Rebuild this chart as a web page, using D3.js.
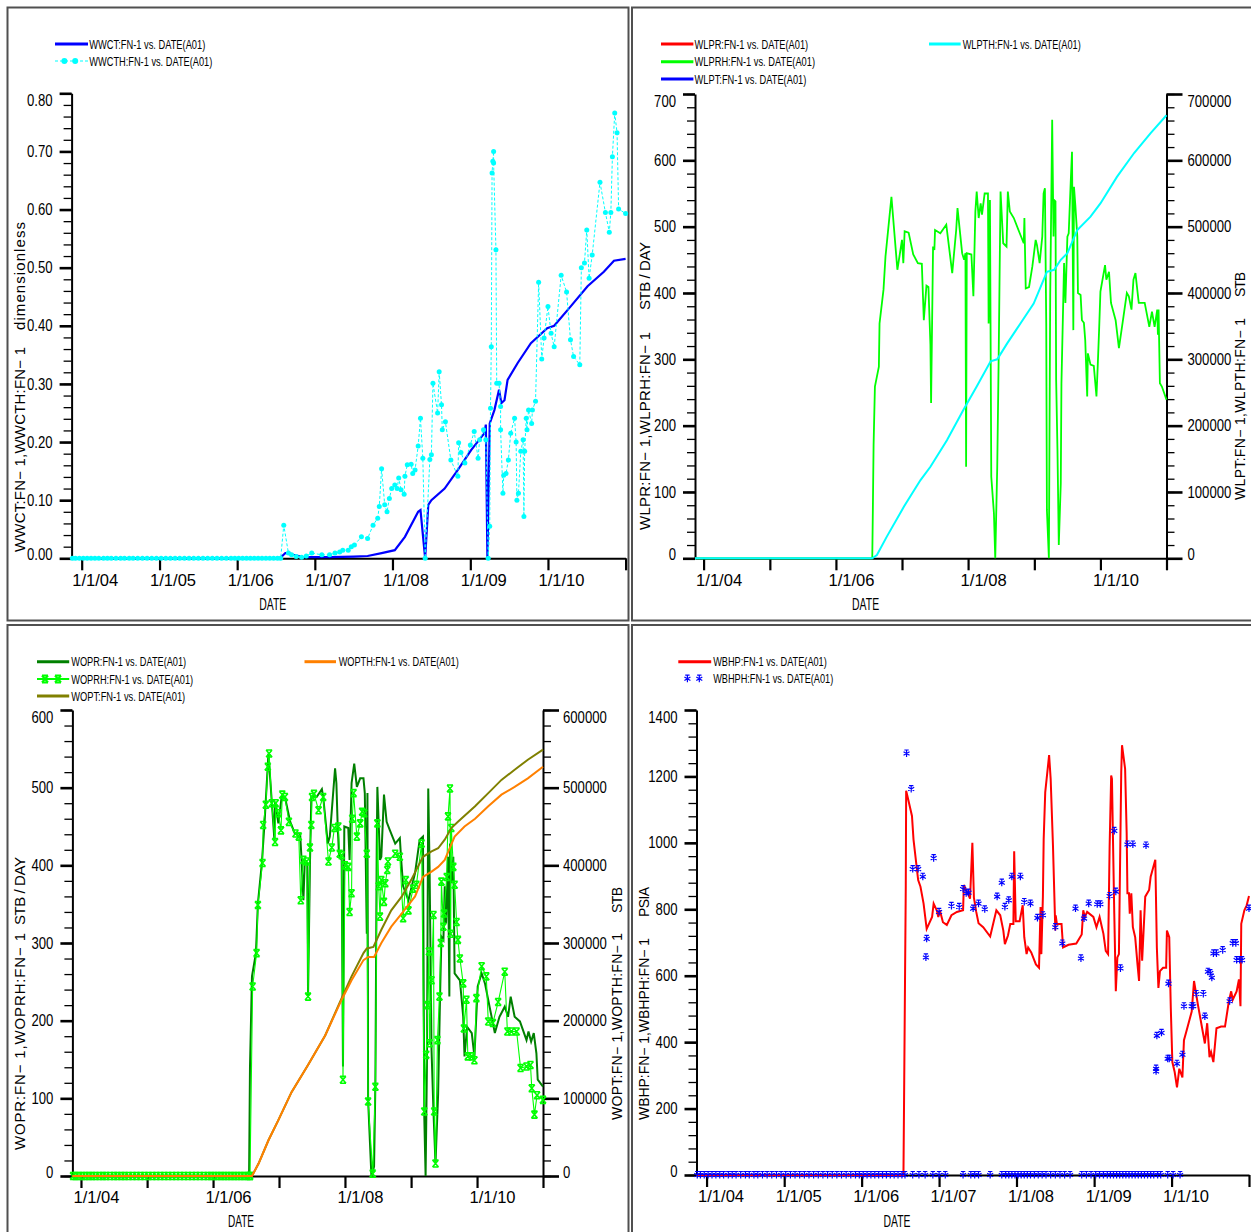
<!DOCTYPE html>
<html><head><meta charset="utf-8">
<script src="https://cdn.jsdelivr.net/npm/d3@7"></script>
<style>
body{margin:0;background:#fff;}
</style></head><body>
<svg id="c" width="1251" height="1232"></svg>
<script>
// ---------------- DATA ----------------
const xTickYears = [2004, 2005, 2006, 2007, 2008, 2009, 2010, 2011];
const xTickLabels = ["1/1/04", "1/1/05", "1/1/06", "1/1/07", "1/1/08", "1/1/09", "1/1/10", ""];

const p1YTicks = [0, 0.1, 0.2, 0.3, 0.4, 0.5, 0.6, 0.7, 0.8];
const p2YTicks = [0, 100, 200, 300, 400, 500, 600, 700];
const p2YRTicks = [0, 100000, 200000, 300000, 400000, 500000, 600000, 700000];
const p3YTicks = [0, 100, 200, 300, 400, 500, 600];
const p3YRTicks = [0, 100000, 200000, 300000, 400000, 500000, 600000];
const p4YTicks = [0, 200, 400, 600, 800, 1000, 1200, 1400];

const p1Legend = ["WWCT:FN-1  vs.  DATE(A01)", "WWCTH:FN-1  vs.  DATE(A01)"];
const p2Legend = ["WLPR:FN-1  vs.  DATE(A01)", "WLPRH:FN-1  vs.  DATE(A01)", "WLPT:FN-1  vs.  DATE(A01)", "WLPTH:FN-1  vs.  DATE(A01)"];
const p3Legend = ["WOPR:FN-1  vs.  DATE(A01)", "WOPRH:FN-1  vs.  DATE(A01)", "WOPT:FN-1  vs.  DATE(A01)", "WOPTH:FN-1  vs.  DATE(A01)"];
const p4Legend = ["WBHP:FN-1  vs.  DATE(A01)", "WBHPH:FN-1  vs.  DATE(A01)"];

// pre-production history report dates (value 0)
const zeroHistoryDates = [2003.88, 2003.92, 2003.97, 2004.02, 2004.07, 2004.12, 2004.17, 2004.22, 2004.28, 2004.33,
  2004.38, 2004.44, 2004.50, 2004.55, 2004.61, 2004.66, 2004.72, 2004.78, 2004.84, 2004.90, 2004.96, 2005.02,
  2005.08, 2005.14, 2005.20, 2005.26, 2005.32, 2005.38, 2005.44, 2005.50, 2005.56, 2005.62, 2005.68, 2005.74,
  2005.80, 2005.86, 2005.92, 2005.97, 2006.02, 2006.07, 2006.12, 2006.17, 2006.22, 2006.27, 2006.32, 2006.37,
  2006.42, 2006.47, 2006.52, 2006.56];

// Panel 1: water cut
const wwct = [[2003.87,0],[2006.55,0],[2006.62,0.009],[2006.67,0.009],[2006.72,0.006],[2006.85,0.002],[2007.2,0.002],
  [2007.5,0.003],[2007.68,0.004],[2007.86,0.009],[2008.03,0.014],[2008.16,0.037],[2008.33,0.08],[2008.36,0.083],
  [2008.42,0],[2008.46,0.092],[2008.50,0.10],[2008.67,0.12],[2008.84,0.152],[2009.01,0.186],[2009.18,0.215],
  [2009.20,0.23],[2009.22,0],[2009.25,0.232],[2009.31,0.255],[2009.37,0.29],[2009.40,0.267],[2009.44,0.272],
  [2009.48,0.307],[2009.61,0.336],[2009.78,0.37],[2009.99,0.396],[2010.08,0.40],[2010.29,0.433],[2010.51,0.468],
  [2010.72,0.493],[2010.85,0.512],[2011.0,0.515]];
const wwcthActive = [[2006.60,0.057],[2006.66,0.009],[2006.70,0.006],[2006.76,0.003],[2006.83,0.002],[2006.89,0.004],
  [2006.96,0.009],[2007.09,0.006],[2007.19,0.006],[2007.26,0.009],[2007.32,0.011],[2007.36,0.014],[2007.43,0.014],
  [2007.47,0.02],[2007.51,0.023],[2007.60,0.037],[2007.68,0.034],[2007.75,0.057],[2007.81,0.069],[2007.83,0.089],
  [2007.86,0.154],[2007.90,0.092],[2007.93,0.08],[2007.96,0.103],[2007.99,0.12],[2008.03,0.126],[2008.06,0.12],
  [2008.08,0.138],[2008.11,0.118],[2008.15,0.11],[2008.16,0.141],[2008.19,0.161],[2008.24,0.162],[2008.26,0.146],
  [2008.29,0.152],[2008.33,0.193],[2008.36,0.241],[2008.39,0.172],[2008.42,0],[2008.48,0.17],[2008.50,0.178],
  [2008.52,0.301],[2008.58,0.25],[2008.60,0.321],[2008.63,0.264],[2008.64,0.221],[2008.68,0.235],[2008.75,0.169],
  [2008.84,0.141],[2008.85,0.199],[2008.88,0.182],[2008.93,0.164],[2009.00,0.195],[2009.05,0.218],[2009.10,0.172],
  [2009.12,0.204],[2009.17,0.221],[2009.20,0.204],[2009.23,0],[2009.25,0.055],[2009.26,0.258],[2009.27,0.364],
  [2009.28,0.663],[2009.29,0.683],[2009.30,0.70],[2009.30,0.68],[2009.33,0.531],[2009.34,0.301],[2009.37,0.301],
  [2009.39,0.261],[2009.39,0.221],[2009.42,0.112],[2009.43,0.143],[2009.46,0.146],[2009.49,0.169],[2009.52,0.215],
  [2009.57,0.241],[2009.59,0.2],[2009.60,0.1],[2009.62,0.112],[2009.65,0.184],[2009.68,0.204],[2009.69,0.072],
  [2009.70,0.184],[2009.72,0.241],[2009.73,0.221],[2009.75,0.255],[2009.79,0.232],[2009.80,0.255],[2009.84,0.27],
  [2009.88,0.475],[2009.92,0.343],[2009.95,0.379],[2010.00,0.433],[2010.04,0.387],[2010.08,0.364],[2010.17,0.487],
  [2010.24,0.458],[2010.29,0.376],[2010.33,0.347],[2010.41,0.333],[2010.43,0.5],[2010.47,0.508],[2010.50,0.565],
  [2010.53,0.482],[2010.57,0.522],[2010.67,0.647],[2010.74,0.595],[2010.79,0.561],[2010.81,0.595],[2010.83,0.691],
  [2010.86,0.766],[2010.89,0.732],[2010.91,0.601],[2011.00,0.593]];

// Panel 2: liquid rate (history) and cumulative liquid (history)
const wlprh = [[2003.87,0],[2006.55,0],[2006.56,83],[2006.57,171],[2006.59,259],[2006.65,289],[2006.66,354],[2006.72,405],
  [2006.75,455],[2006.84,545],[2006.93,435],[2007.00,480],[2007.02,445],[2007.04,493],[2007.10,491],[2007.17,458],
  [2007.24,445],[2007.30,444],[2007.33,359],[2007.37,411],[2007.40,409],[2007.43,322],[2007.44,234],[2007.47,470],
  [2007.49,465],[2007.50,495],[2007.58,490],[2007.67,503],[2007.76,430],[2007.82,495],[2007.84,528],[2007.91,460],
  [2007.94,450],[2007.96,460],[2007.97,138],[2007.98,460],[2008.05,458],[2008.08,395],[2008.11,523],[2008.13,553],
  [2008.16,513],[2008.19,535],[2008.21,518],[2008.25,550],[2008.30,550],[2008.31,354],[2008.33,540],[2008.35,123],
  [2008.39,68],[2008.41,0],[2008.44,138],[2008.46,289],[2008.49,553],[2008.53,475],[2008.58,470],[2008.60,553],
  [2008.63,523],[2008.69,513],[2008.78,490],[2008.84,475],[2008.85,513],[2008.87,407],[2008.92,409],[2008.97,440],
  [2009.02,480],[2009.04,472],[2009.08,445],[2009.12,485],[2009.14,550],[2009.16,558],[2009.18,354],[2009.19,73],
  [2009.22,0],[2009.24,395],[2009.27,661],[2009.29,485],[2009.30,540],[2009.32,538],[2009.33,269],[2009.35,163],
  [2009.37,20],[2009.40,113],[2009.41,264],[2009.45,445],[2009.47,385],[2009.50,485],[2009.52,490],[2009.55,566],
  [2009.57,613],[2009.59,344],[2009.60,560],[2009.62,533],[2009.65,485],[2009.66,400],[2009.70,397],[2009.72,359],
  [2009.75,355],[2009.77,329],[2009.80,244],[2009.81,309],[2009.85,292],[2009.90,290],[2009.94,244],[2009.96,292],
  [2009.98,344],[2010.00,402],[2010.07,442],[2010.09,420],[2010.13,432],[2010.16,385],[2010.23,359],[2010.28,317],
  [2010.35,365],[2010.40,400],[2010.43,395],[2010.47,375],[2010.50,420],[2010.53,430],[2010.58,385],[2010.67,385],
  [2010.74,349],[2010.78,372],[2010.82,349],[2010.86,375],[2010.87,337],[2010.88,375],[2010.90,264],[2010.93,259],
  [2011.00,239]];
const wlpth = [[2003.87,0],[2006.55,0],[2006.62,5000],[2006.77,32700],[2007.03,78000],[2007.28,118000],[2007.43,138000],
  [2007.68,178000],[2007.93,224000],[2008.13,259000],[2008.34,297000],[2008.44,300000],[2008.59,324000],
  [2008.79,354000],[2008.99,384000],[2009.19,432000],[2009.30,435000],[2009.40,450000],[2009.50,460000],
  [2009.65,495000],[2009.85,515000],[2010.00,535000],[2010.25,575000],[2010.51,611000],[2010.76,641000],
  [2011.00,668000]];

// Panel 3: oil rate / cumulative oil
const wopr = [[2003.87,0],[2006.546,0],[2006.56,141],[2006.59,257],[2006.65,287],[2006.68,351],[2006.74,403],[2006.78,454],
  [2006.84,544],[2006.93,433],[2006.94,482],[2006.99,454],[2007.04,488],[2007.09,488],[2007.17,456],[2007.24,441],
  [2007.32,441],[2007.34,411],[2007.37,355],[2007.39,403],[2007.43,403],[2007.44,231],[2007.47,405],[2007.49,488],
  [2007.57,488],[2007.65,498],[2007.67,488],[2007.74,428],[2007.77,437],[2007.85,525],[2007.87,506],[2007.89,450],
  [2007.91,413],[2007.95,407],[2007.97,141],[2007.99,450],[2008.05,448],[2008.07,407],[2008.10,506],[2008.14,531],
  [2008.18,501],[2008.23,512],[2008.28,512],[2008.30,493],[2008.33,312],[2008.34,493],[2008.35,98],[2008.40,0],
  [2008.44,12],[2008.46,119],[2008.48,420],[2008.49,501],[2008.53,407],[2008.55,411],[2008.59,491],[2008.63,456],
  [2008.68,445],[2008.76,428],[2008.83,435],[2008.85,407],[2008.88,373],[2008.96,355],[2009.01,373],[2009.06,390],
  [2009.13,433],[2009.18,437],[2009.20,76],[2009.22,0],[2009.24,141],[2009.26,499],[2009.28,398],[2009.31,162],
  [2009.34,81],[2009.37,16],[2009.41,106],[2009.44,235],[2009.46,308],[2009.49,304],[2009.51,373],[2009.53,325],
  [2009.56,411],[2009.58,231],[2009.59,428],[2009.61,377],[2009.64,411],[2009.66,261],[2009.74,252],[2009.79,205],
  [2009.81,154],[2009.85,192],[2009.92,184],[2009.96,154],[2010.01,244],[2010.07,261],[2010.12,248],[2010.19,218],
  [2010.27,184],[2010.34,205],[2010.42,218],[2010.47,205],[2010.51,231],[2010.57,205],[2010.65,199],[2010.75,175],
  [2010.78,186],[2010.82,173],[2010.86,184],[2010.90,158],[2010.92,124],[2011.00,115]];
const woprhActive = [[2006.56,0],[2006.60,244],[2006.66,287],[2006.68,349],[2006.75,403],[2006.76,452],[2006.80,478],
  [2006.83,527],[2006.85,544],[2006.89,480],[2006.94,430],[2006.95,480],[2006.99,467],[2007.03,445],[2007.05,491],
  [2007.09,488],[2007.15,456],[2007.25,441],[2007.30,437],[2007.33,355],[2007.37,407],[2007.42,405],[2007.44,231],
  [2007.47,423],[2007.49,452],[2007.50,488],[2007.53,492],[2007.60,471],[2007.67,488],[2007.75,405],[2007.80,423],
  [2007.84,448],[2007.90,450],[2007.92,415],[2007.95,413],[2007.97,124],[2008.00,400],[2008.05,398],[2008.07,340],
  [2008.10,364],[2008.11,460],[2008.13,493],[2008.18,437],[2008.23,454],[2008.26,469],[2008.29,467],[2008.33,415],
  [2008.35,96],[2008.42,3],[2008.46,115],[2008.49,454],[2008.51,373],[2008.53,334],[2008.55,381],[2008.59,353],
  [2008.61,377],[2008.64,394],[2008.65,405],[2008.76,415],[2008.83,411],[2008.88,332],[2008.92,381],[2008.96,342],
  [2009.03,370],[2009.08,375],[2009.16,428],[2009.20,83],[2009.23,156],[2009.25,220],[2009.27,289],[2009.28,171],
  [2009.31,252],[2009.34,336],[2009.35,83],[2009.37,16],[2009.40,175],[2009.43,231],[2009.45,300],[2009.46,379],
  [2009.49,321],[2009.50,338],[2009.54,385],[2009.56,463],[2009.59,499],[2009.60,312],[2009.61,448],[2009.64,398],
  [2009.66,375],[2009.69,327],[2009.71,304],[2009.74,280],[2009.79,248],[2009.80,190],[2009.84,227],[2009.86,154],
  [2009.92,154],[2009.96,149],[2009.99,229],[2010.07,270],[2010.14,257],[2010.17,199],[2010.24,197],[2010.32,224],
  [2010.42,263],[2010.46,186],[2010.52,186],[2010.60,186],[2010.66,139],[2010.75,141],[2010.81,143],[2010.83,113],
  [2010.87,79],[2010.91,104],[2011.00,98]];
const wopt = [[2003.87,0],[2006.59,0],[2006.69,16000],[2006.84,46000],[2006.99,72000],[2007.19,108000],[2007.44,143000],
  [2007.70,181000],[2007.95,229000],[2008.10,257000],[2008.28,287000],[2008.33,293000],[2008.43,295000],
  [2008.55,317000],[2008.70,342000],[2008.86,360000],[2009.00,381000],[2009.18,411000],[2009.31,418000],
  [2009.41,422000],[2009.51,433000],[2009.61,448000],[2009.71,456000],[2009.97,476000],[2010.17,493000],
  [2010.37,510000],[2010.57,523000],[2010.77,536000],[2011.00,549000]];
const wopth = [[2003.87,0],[2006.59,0],[2006.69,16000],[2006.84,46000],[2006.99,72000],[2007.19,108000],[2007.44,143000],
  [2007.70,181000],[2007.95,227000],[2008.10,252000],[2008.28,278000],[2008.35,282000],[2008.44,282000],
  [2008.55,300000],[2008.70,321000],[2008.86,338000],[2009.06,360000],[2009.18,385000],[2009.31,392000],
  [2009.41,398000],[2009.51,407000],[2009.66,437000],[2009.81,450000],[2009.97,460000],[2010.17,476000],
  [2010.37,491000],[2010.57,501000],[2010.77,512000],[2011.00,527000]];

// Panel 4: bottom hole pressure
const wbhp = [[2003.87,0],[2006.54,0],[2006.55,284],[2006.56,579],[2006.57,868],[2006.575,1157],[2006.60,1132],
  [2006.65,1081],[2006.67,1010],[2006.73,888],[2006.76,868],[2006.80,817],[2006.84,741],[2006.91,777],[2006.93,817],
  [2006.97,797],[2006.99,777],[2007.01,797],[2007.05,761],[2007.10,753],[2007.16,782],[2007.23,792],[2007.31,797],
  [2007.32,873],[2007.36,853],[2007.40,832],[2007.43,1000],[2007.45,835],[2007.48,792],[2007.51,758],[2007.57,746],
  [2007.66,718],[2007.74,797],[2007.79,782],[2007.83,736],[2007.85,695],[2007.89,721],[2007.92,756],[2007.96,756],
  [2007.97,975],[2007.99,764],[2008.04,764],[2008.08,812],[2008.10,716],[2008.13,665],[2008.15,685],[2008.19,670],
  [2008.25,634],[2008.29,624],[2008.31,807],[2008.32,665],[2008.34,838],[2008.35,1010],[2008.37,1152],[2008.42,1264],
  [2008.44,1193],[2008.47,990],[2008.50,736],[2008.505,782],[2008.52,756],[2008.58,756],[2008.60,685],[2008.67,693],
  [2008.77,697],[2008.84,724],[2008.86,797],[2008.88,777],[2008.91,792],[2008.99,777],[2009.03,746],[2009.07,777],
  [2009.12,726],[2009.15,675],[2009.18,665],[2009.20,990],[2009.22,1203],[2009.23,1193],[2009.26,787],[2009.28,553],
  [2009.30,655],[2009.32,665],[2009.35,1213],[2009.36,1294],[2009.40,1223],[2009.42,1030],[2009.43,848],[2009.45,848],
  [2009.46,787],[2009.48,848],[2009.50,746],[2009.53,716],[2009.56,634],[2009.58,584],[2009.60,797],[2009.62,645],
  [2009.66,838],[2009.71,858],[2009.73,898],[2009.79,949],[2009.81,685],[2009.83,563],[2009.85,614],[2009.89,624],
  [2009.93,624],[2009.94,736],[2009.97,716],[2009.99,503],[2010.01,340],[2010.04,310],[2010.07,264],[2010.10,320],
  [2010.14,294],[2010.16,406],[2010.19,431],[2010.26,492],[2010.29,584],[2010.34,513],[2010.43,396],[2010.46,457],
  [2010.49,355],[2010.51,370],[2010.54,340],[2010.58,442],[2010.64,447],[2010.69,447],[2010.74,523],[2010.77,553],
  [2010.79,528],[2010.84,553],[2010.87,589],[2010.89,508],[2010.90,756],[2010.94,797],[2010.97,812],[2011.00,840]];
const wbhphActive = [[2006.58,1269],[2006.64,1162],[2006.66,921],[2006.73,921],[2006.79,898],[2006.83,655],[2006.84,711],
  [2006.93,954],[2007.00,792],[2007.16,810],[2007.26,807],[2007.31,861],[2007.35,848],[2007.38,850],[2007.44,802],
  [2007.51,817],[2007.59,800],[2007.75,838],[2007.81,880],[2007.85,807],[2007.90,827],[2007.94,898],[2008.05,898],
  [2008.10,822],[2008.18,817],[2008.27,774],[2008.34,782],[2008.50,746],[2008.59,697],[2008.76,802],[2008.83,652],
  [2008.87,772],[2008.93,817],[2009.04,815],[2009.08,815],[2009.20,840],[2009.26,1036],[2009.28,853],[2009.34,622],
  [2009.43,995],[2009.50,995],[2009.67,992],[2009.80,320],[2009.80,312],[2009.81,419],[2009.87,428],[2009.95,350],
  [2009.97,350],[2009.96,576],[2010.07,335],[2010.14,362],[2010.16,508],[2010.26,508],[2010.28,508],[2010.32,545],
  [2010.41,545],[2010.43,477],[2010.47,612],[2010.50,608],[2010.52,594],[2010.54,667],[2010.58,667],[2010.66,677],
  [2010.75,523],[2010.79,698],[2010.83,698],[2010.84,647],[2010.88,647],[2010.91,647],[2011.00,802]];
const wbhphZeroDatesLate = [2006.66, 2006.74, 2006.82, 2006.92, 2007.00, 2007.08, 2007.31, 2007.41, 2007.46, 2007.51,
  2007.66, 2007.81, 2007.86, 2007.90, 2007.94, 2007.98, 2008.02, 2008.06, 2008.10, 2008.14, 2008.18, 2008.23,
  2008.28, 2008.33, 2008.38, 2008.44, 2008.50, 2008.56, 2008.62, 2008.69, 2008.84, 2008.90, 2008.96, 2009.02,
  2009.07, 2009.12, 2009.17, 2009.21, 2009.25, 2009.29, 2009.33, 2009.37, 2009.41, 2009.45, 2009.49, 2009.53,
  2009.57, 2009.61, 2009.65, 2009.69, 2009.73, 2009.77, 2009.82, 2009.86, 2009.95, 2010.02, 2010.11];

// ---------------- DRAWING ----------------
const FONT = '"Liberation Sans", Arial, sans-serif';
function fromYear(y) {
  const Y = Math.floor(y), a = Date.UTC(Y, 0, 1), b = Date.UTC(Y + 1, 0, 1);
  return new Date(a + (y - Y) * (b - a));
}
const svg = d3.select("#c").attr("font-family", FONT);
svg.append("rect").attr("width", 1251).attr("height", 1232).attr("fill", "#fff");

// panel frames
[[7.5, 7.5, 621, 613], [632, 7.5, 640, 613], [7.5, 625, 621, 640], [632, 625, 640, 640]].forEach(r => {
  svg.append("rect").attr("x", r[0]).attr("y", r[1]).attr("width", r[2]).attr("height", r[3])
    .attr("fill", "none").attr("stroke", "#505050").attr("stroke-width", 2);
});

const timeDomain = [fromYear(2003.87), fromYear(2011.0)];
function labelLen(s) { let n = 0; for (const ch of s) n += (ch === "." || ch === "/") ? 3.7 : 7.3; return n; }

function styleAxis(a) {
  a.attr("font-family", FONT).attr("font-size", 16);
  a.select(".domain").attr("stroke", "#000").attr("stroke-width", 2);
  a.selectAll(".tick line").attr("stroke", "#000");
  a.selectAll(".tick text").attr("fill", "#000");
}
function xAxis(g, x, y0, labelStep, dx) {
  const ax = d3.axisBottom(x).tickValues(xTickYears.map(fromYear)).tickSize(12).tickSizeOuter(0).tickPadding(4)
    .tickFormat((d, i) => (i % labelStep === 0 ? xTickLabels[i] : ""));
  const a = g.append("g").attr("transform", `translate(0,${y0})`).call(ax);
  styleAxis(a);
  a.selectAll(".tick line").attr("stroke-width", 2.2);
  a.selectAll(".tick text").attr("text-anchor", "start").attr("x", dx).each(function () {
    if (this.textContent) d3.select(this).attr("textLength", 46).attr("lengthAdjust", "spacingAndGlyphs");
  });
}
function yAxis(g, y, xpos, side, major, minorStep, fmt, majorLen, pad) {
  const mk = side === "left" ? d3.axisLeft : d3.axisRight;
  const [lo, hi] = y.domain();
  const a = g.append("g").attr("transform", `translate(${xpos},0)`)
    .call(mk(y).tickValues(major).tickSize(majorLen).tickSizeOuter(0).tickPadding(pad).tickFormat(fmt));
  styleAxis(a);
  a.selectAll(".tick line").attr("stroke-width", 2.6);
  a.selectAll(".tick text")
    .attr("dy", d => (d === hi ? "0.78em" : d === lo ? "0.08em" : "0.32em"))
    .attr("textLength", function () { return labelLen(this.textContent); })
    .attr("lengthAdjust", "spacingAndGlyphs");
  const minor = d3.range(lo, hi + minorStep / 2, minorStep);
  const m = g.append("g").attr("transform", `translate(${xpos},0)`)
    .call(mk(y).tickValues(minor).tickSize(8).tickSizeOuter(0).tickFormat(""));
  m.select(".domain").remove();
  m.selectAll(".tick line").attr("stroke", "#000").attr("stroke-width", 1.3);
}
function vtitle(x, yStart, len, text, size) {
  svg.append("text").attr("transform", `translate(${x},${yStart}) rotate(-90)`)
    .attr("font-size", size).attr("textLength", len).attr("lengthAdjust", "spacing").attr("fill", "#000").text(text);
}
function htext(x, y, text, size, len) {
  svg.append("text").attr("x", x - len / 2).attr("y", y).attr("font-size", size)
    .attr("textLength", len).attr("lengthAdjust", "spacingAndGlyphs").attr("fill", "#000").text(text);
}
function legendLine(x1, x2, y, color, w, dash) {
  svg.append("line").attr("x1", x1).attr("x2", x2).attr("y1", y).attr("y2", y)
    .attr("stroke", color).attr("stroke-width", w).attr("stroke-dasharray", dash || null);
}
function legendText(x, y, text, len) {
  svg.append("text").attr("x", x).attr("y", y + 4.5).attr("font-size", 12.5).attr("textLength", len)
    .attr("lengthAdjust", "spacingAndGlyphs").attr("fill", "#000").text(text);
}
const starPath = "M-3,-3.5L3,3.5M3,-3.5L-3,3.5M-3,-3.5H3M-3,3.5H3";
const asteriskPath = "M0,-3.5V3.5M-3,-1.8L3,1.8M3,-1.8L-3,1.8M-2.2,-3.5H2.2";

function linePath(x, y) { return d3.line().x(d => x(fromYear(d[0]))).y(d => y(d[1])); }

// ---------- Panel 1 ----------
{
  const g = svg.append("g");
  const x = d3.scaleUtc().domain(timeDomain).range([71.6, 625.6]);
  const y = d3.scaleLinear().domain([0, 0.8]).range([558.3, 93.3]);
  yAxis(g, y, 71.6, "left", p1YTicks, 0.02, d3.format(".2f"), 12, 7);
  xAxis(g, x, 558.3, 1, -10);
  const wwcth = zeroHistoryDates.map(d => [d, 0]).concat(wwcthActive);
  g.append("path").datum(wwct).attr("d", linePath(x, y)).attr("fill", "none").attr("stroke", "#0000ff").attr("stroke-width", 2.2);
  g.append("path").datum(wwcth).attr("d", linePath(x, y)).attr("fill", "none").attr("stroke", "#00ffff")
    .attr("stroke-width", 1).attr("stroke-dasharray", "3,2");
  g.selectAll("circle.h").data(wwcth).join("circle").attr("cx", d => x(fromYear(d[0]))).attr("cy", d => y(d[1]))
    .attr("r", 2.5).attr("fill", "#00ffff");
  legendLine(55, 88, 44, "#0000ff", 3);
  legendText(89.3, 44, p1Legend[0], 116);
  legendLine(55, 88, 61, "#00ffff", 1.2, "3,2");
  [64.4, 75.2].forEach(cx => svg.append("circle").attr("cx", cx).attr("cy", 61).attr("r", 3).attr("fill", "#00ffff"));
  legendText(89.3, 61, p1Legend[1], 123);
  vtitle(25, 552, 205, "WWCT:FN\u2212 1,WWCTH:FN\u2212 1", 15);
  vtitle(25, 330, 108, "dimensionless", 15);
  htext(272.7, 610, "DATE", 16, 27);
}

// ---------- Panel 2 ----------
{
  const g = svg.append("g");
  const x = d3.scaleUtc().domain(timeDomain).range([695, 1166.5]);
  const y = d3.scaleLinear().domain([0, 700]).range([558.3, 94]);
  const yR = d3.scaleLinear().domain([0, 700000]).range([558.3, 94]);
  yAxis(g, y, 695, "left", p2YTicks, 20, d3.format("d"), 12, 7);
  yAxis(g, yR, 1166.5, "right", p2YRTicks, 20000, d3.format("d"), 16, 5);
  xAxis(g, x, 558.3, 2, -8);
  g.append("path").datum(wlprh).attr("d", linePath(x, y)).attr("fill", "none").attr("stroke", "#00ff00").attr("stroke-width", 1.8);
  g.append("path").datum(wlpth).attr("d", linePath(x, yR)).attr("fill", "none").attr("stroke", "#00ffff").attr("stroke-width", 2);
  legendLine(661, 693.4, 44, "#ff0000", 3);
  legendText(694.6, 44, p2Legend[0], 113.6);
  legendLine(661, 693.4, 61.7, "#00ff00", 3);
  legendText(694.6, 61.7, p2Legend[1], 120.4);
  legendLine(661, 693.4, 79, "#0000ff", 3);
  legendText(694.6, 79, p2Legend[2], 111.7);
  legendLine(929, 960.7, 44, "#00ffff", 3);
  legendText(962.7, 44, p2Legend[3], 118);
  vtitle(650, 530, 198, "WLPR:FN\u2212 1,WLPRH:FN\u2212 1", 15);
  vtitle(650, 310, 68, "STB / DAY", 15);
  vtitle(1245, 500, 182, "WLPT:FN\u2212 1,WLPTH:FN\u2212 1", 14);
  vtitle(1245, 297, 25, "STB", 14);
  htext(865.6, 610, "DATE", 16, 27);
}

// ---------- Panel 3 ----------
{
  const g = svg.append("g");
  const x = d3.scaleUtc().domain(timeDomain).range([72.4, 543]);
  const y = d3.scaleLinear().domain([0, 600]).range([1176, 710]);
  const yR = d3.scaleLinear().domain([0, 600000]).range([1176, 710]);
  yAxis(g, y, 72.4, "left", p3YTicks, 20, d3.format("d"), 12, 7);
  yAxis(g, yR, 543, "right", p3YRTicks, 20000, d3.format("d"), 16, 4);
  xAxis(g, x, 1176, 2, -8);
  const woprh = zeroHistoryDates.map(d => [d, 0]).concat(woprhActive);
  g.append("path").datum(wopr).attr("d", linePath(x, y)).attr("fill", "none").attr("stroke", "#008000").attr("stroke-width", 2);
  g.append("path").datum(woprh).attr("d", linePath(x, y)).attr("fill", "none").attr("stroke", "#00ff00").attr("stroke-width", 1.1);
  g.selectAll("path.s").data(woprh).join("path").attr("d", starPath)
    .attr("transform", d => `translate(${x(fromYear(d[0]))},${y(d[1])})`)
    .attr("fill", "none").attr("stroke", "#00ff00").attr("stroke-width", 1.6);
  g.append("path").datum(wopt).attr("d", linePath(x, yR)).attr("fill", "none").attr("stroke", "#808000").attr("stroke-width", 2);
  g.append("path").datum(wopth).attr("d", linePath(x, yR)).attr("fill", "none").attr("stroke", "#ff8000").attr("stroke-width", 2);
  legendLine(37, 69.2, 661.7, "#008000", 3);
  legendText(71.2, 661.7, p3Legend[0], 115);
  legendLine(37, 69.2, 679, "#00ff00", 2);
  [45, 58].forEach(cx => svg.append("path").attr("d", starPath).attr("transform", `translate(${cx},679)`)
    .attr("fill", "none").attr("stroke", "#00ff00").attr("stroke-width", 2));
  legendText(71.2, 679, p3Legend[1], 122);
  legendLine(37, 69.2, 696, "#808000", 3);
  legendText(71.2, 696, p3Legend[2], 114);
  legendLine(304.5, 336, 661.7, "#ff8000", 3);
  legendText(338.7, 661.7, p3Legend[3], 120);
  vtitle(25, 1150, 217, "WOPR:FN\u2212 1,WOPRH:FN\u2212 1", 15);
  vtitle(25, 925, 68, "STB / DAY", 15);
  vtitle(622, 1120, 187, "WOPT:FN\u2212 1,WOPTH:FN\u2212 1", 14);
  vtitle(622, 913, 26, "STB", 14);
  htext(241, 1227, "DATE", 16, 26);
}

// ---------- Panel 4 ----------
{
  const g = svg.append("g");
  const x = d3.scaleUtc().domain(timeDomain).range([696.5, 1249]);
  const y = d3.scaleLinear().domain([0, 1400]).range([1175, 710]);
  yAxis(g, y, 696.5, "left", p4YTicks, 40, d3.format("d"), 12, 7);
  xAxis(g, x, 1175, 1, -9);
  const wbhph = zeroHistoryDates.concat(wbhphZeroDatesLate).map(d => [d, 0]).concat(wbhphActive);
  g.append("path").datum(wbhp).attr("d", linePath(x, y)).attr("fill", "none").attr("stroke", "#ff0000").attr("stroke-width", 2);
  g.selectAll("path.a").data(wbhph).join("path").attr("d", asteriskPath)
    .attr("transform", d => `translate(${x(fromYear(d[0]))},${y(d[1])})`)
    .attr("fill", "none").attr("stroke", "#0000ff").attr("stroke-width", 1.2);
  legendLine(678.3, 711.2, 661.7, "#ff0000", 3);
  legendText(713.2, 661.7, p4Legend[0], 113.6);
  [687.4, 699.3].forEach(cx => svg.append("path").attr("d", asteriskPath).attr("transform", `translate(${cx},678.7)`)
    .attr("fill", "none").attr("stroke", "#0000ff").attr("stroke-width", 1.2));
  legendText(713.2, 678.7, p4Legend[1], 120);
  vtitle(649, 1120, 182, "WBHP:FN\u2212 1,WBHPH:FN\u2212 1", 14);
  vtitle(649, 917, 30, "PSIA", 14);
  htext(897, 1227, "DATE", 16, 27);
}
</script>
</body></html>
